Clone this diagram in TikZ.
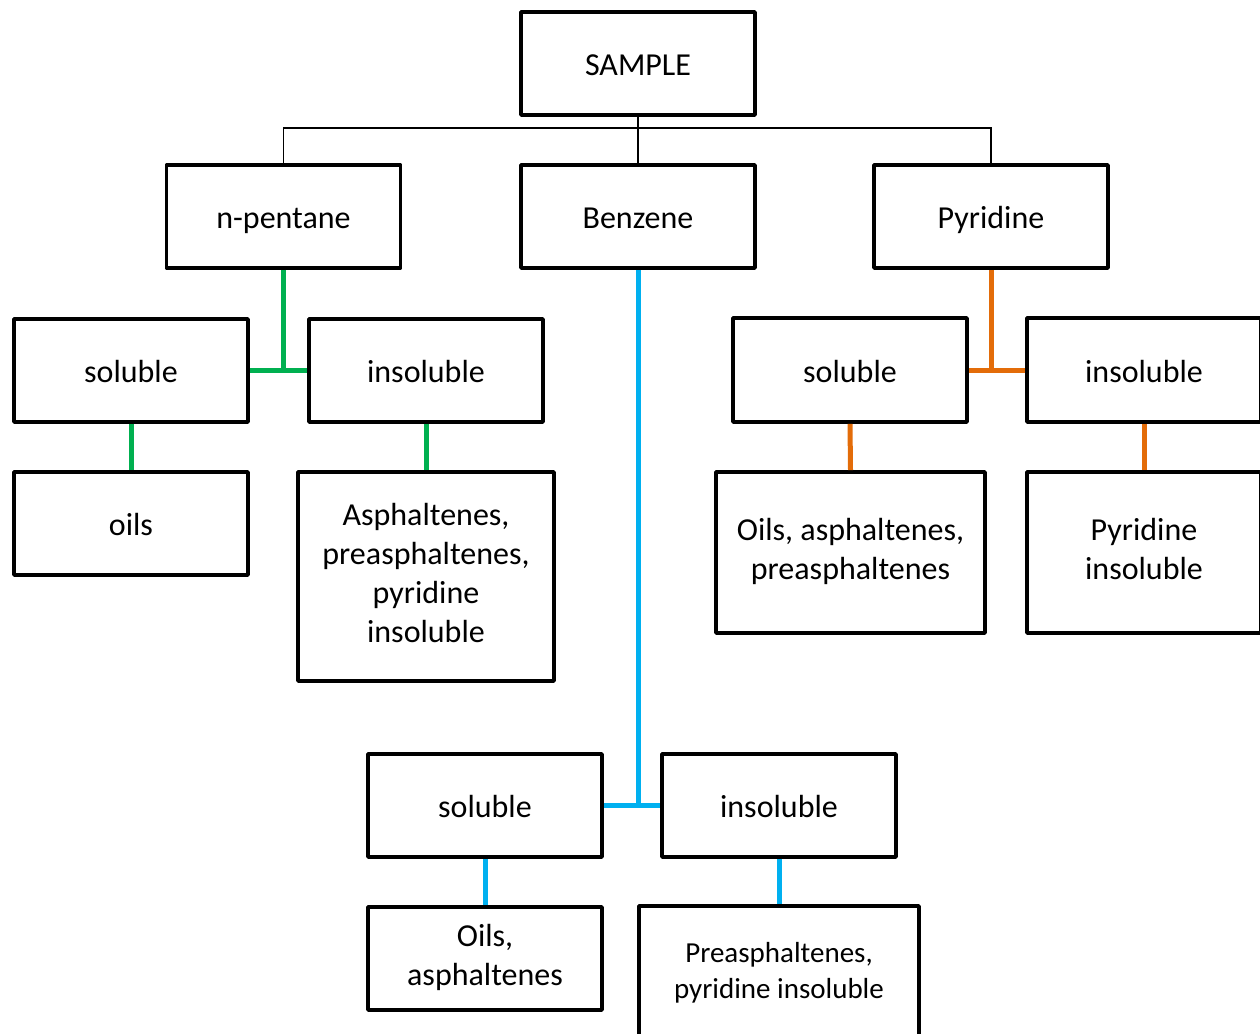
\documentclass[tikz,border=0pt]{standalone}
\usepackage{fontspec}
\setmainfont{Carlito}
\usepackage{tikz}

\definecolor{npgreen}{HTML}{00B050}
\definecolor{bzblue}{HTML}{00B0F0}
\definecolor{pyorange}{HTML}{E36C09}

\tikzset{
  box/.style={draw, line width=3.6pt, line join=round, align=center,
    minimum width=234pt, minimum height=103pt, inner sep=2pt,
    font=\fontsize{32}{39}\selectfont,
    execute at begin node={\rule{0pt}{1em}},
    execute at end node={\rule[-0.25em]{0pt}{0.25em}}},
  link/.style={line width=1.4pt},
  branch/.style={line width=5pt}
}

\begin{document}
\begin{tikzpicture}[x=1pt,y=-1pt]
      \useasboundingbox (0,0) rectangle (1260,1033);

      % Top level
      \node[box] (sample) at (638,63.5) {SAMPLE};
      \node[box] (npent) at (283.5,216.5) {n-pentane};
      \node[box] (benz) at (638,216.5) {Benzene};
      \node[box] (pyr) at (991,216.5) {Pyridine};
      \coordinate (split) at (638,128);
      \draw[link] (sample.south) -- (benz.north);
      \draw[link] (npent.north) |- (split) -| (pyr.north);

      % n-pentane branch
      \node[box] (nsol) at (131,370.5) {soluble};
      \node[box] (ninsol) at (426,370.5) {insoluble};
      \node[box] (noils) at (131,523.5) {oils};
      \node[box, minimum width=256pt, minimum height=209pt] (nasph) at (426,576.5)
        {Asphaltenes,\\preasphaltenes,\\pyridine\\insoluble};
      \draw[branch,npgreen] (nsol.east) -- (ninsol.west);
      \draw[branch,npgreen] (npent.south) -- (npent.south |- nsol.east);
      \draw[branch,npgreen] (nsol.south) -- (noils.north);
      \draw[branch,npgreen] (ninsol.south) -- (nasph.north);

      % Pyridine branch
      \node[box, minimum height=104pt] (psol) at (850,370) {soluble};
      \node[box, minimum height=104pt] (pinsol) at (1144,370) {insoluble};
      \node[box, minimum width=269pt, minimum height=161pt] (poils) at (850.5,552.5)
        {Oils, asphaltenes,\\preasphaltenes};
      \node[box, minimum height=161pt] (ppins) at (1144,552.5) {Pyridine\\insoluble};
      \draw[branch,pyorange] (psol.east) -- (pinsol.west);
      \draw[branch,pyorange] (pyr.south) -- (pyr.south |- psol.east);
      \draw[branch,pyorange] (psol.south) -- (poils.north);
      \draw[branch,pyorange] (pinsol.south) -- (ppins.north);

      % Benzene branch
      \node[box] (bsol) at (485,805.5) {soluble};
      \node[box] (binsol) at (779,805.5) {insoluble};
      \node[box] (boils) at (485,958.5) {Oils,\\asphaltenes};
      \node[box, minimum width=280pt, minimum height=136pt,
        font=\fontsize{29}{36}\selectfont] (bpre) at (779,974)
        {Preasphaltenes,\\pyridine insoluble};
      \draw[branch,bzblue] (bsol.east) -- (binsol.west);
      \draw[branch,bzblue] (benz.south) -- (benz.south |- bsol.east);
      \draw[branch,bzblue] (bsol.south) -- (boils.north);
      \draw[branch,bzblue] (binsol.south) -- (bpre.north);
\end{tikzpicture}
\end{document}
